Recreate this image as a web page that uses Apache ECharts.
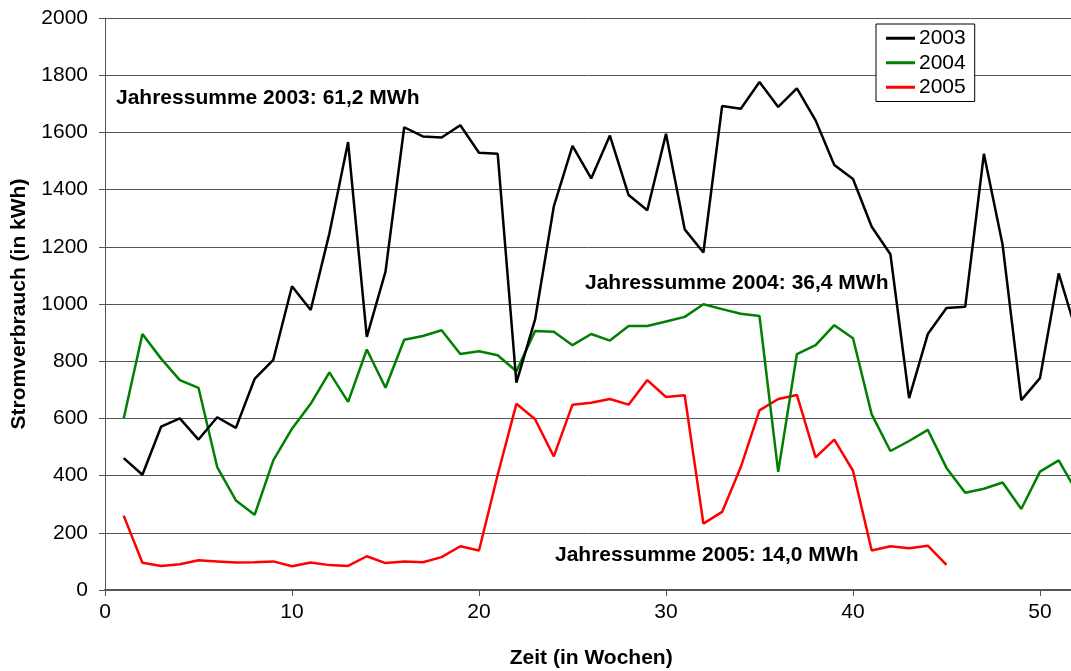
<!DOCTYPE html>
<html>
<head>
<meta charset="utf-8">
<script src="https://cdn.jsdelivr.net/npm/echarts@6/dist/echarts.min.js"></script>
<style>
  html, body { margin: 0; padding: 0; background: #fff; }
  #chart { width: 1071px; height: 671px; }
</style>
</head>
<body>
<div id="chart"></div>
<script>
  // Wochenwerte (kWh), Woche 1..n
  const weeks2003 = [461, 403, 571, 600, 526, 604, 567, 738, 805, 1062, 979, 1247, 1566, 885, 1113,
    1618, 1586, 1582, 1625, 1529, 1525, 725, 946, 1341, 1553, 1439, 1589, 1381, 1328, 1595,
    1261, 1180, 1692, 1683, 1776, 1689, 1754, 1642, 1486, 1437, 1270, 1174, 671, 895, 986,
    990, 1525, 1207, 664, 741, 1107, 890]
  const weeks2004 = [600, 895, 809, 734, 707, 430, 313, 263, 453, 564, 651, 761, 658, 841, 707,
    875, 888, 908, 825, 835, 821, 765, 906, 903, 856, 895, 872, 923, 923, 939,
    955, 999, 982, 966, 958, 413, 825, 856, 926, 880, 614, 486, 521, 560, 427,
    340, 354, 376, 283, 414, 453, 340]
  const weeks2005 = [260, 95, 84, 90, 104, 100, 96, 97, 100, 83, 96, 87, 84, 118, 94,
    100, 97, 115, 153, 138, 403, 651, 597, 467, 648, 655, 668, 648, 734, 675,
    681, 232, 273, 430, 628, 668, 682, 464, 526, 417, 138, 153, 146, 155, 88]
  const seriesNames = ['2003', '2004', '2005']
  const seriesColors = ['#000000', '#008000', '#ff0000']
  const yearTotals = ['Jahressumme 2003: 61,2 MWh', 'Jahressumme 2004: 36,4 MWh', 'Jahressumme 2005: 14,0 MWh']

  function toPairs (values) {
    return values.map(function (v, i) { return [i + 1, v] })
  }

  let chart = echarts.init(document.getElementById('chart'))
  let font = 'Liberation Sans, Arial, sans-serif'
  let option = {
    backgroundColor: '#fff',
    animation: false,
    grid: {
      left: 105,
      right: -6.4,
      top: 18,
      bottom: 81,
      outerBoundsMode: 'none',
      containLabel: false
    },
    legend: {
      orient: 'vertical',
      left: 876,
      top: 24,
      padding: [2, 9, 2, 10],
      itemGap: 0,
      itemWidth: 29,
      itemHeight: 3,
      icon: 'rect',
      backgroundColor: '#fff',
      borderColor: '#000',
      borderWidth: 1,
      borderRadius: 0,
      textStyle: { fontFamily: font, fontSize: 21, lineHeight: 24.5, color: '#000', padding: [0, 0, 0, -1] },
      data: seriesNames
    },
    xAxis: {
      type: 'value',
      min: 0,
      max: 52,
      interval: 10,
      name: 'Zeit (in Wochen)',
      nameLocation: 'middle',
      nameGap: 58,
      nameTextStyle: { fontFamily: font, fontSize: 21, fontWeight: 'bold', color: '#000' },
      axisLine: { onZero: false, lineStyle: { color: '#555', width: 2 } },
      axisTick: { show: true, length: 6, lineStyle: { color: '#555' } },
      axisLabel: { fontFamily: font, fontSize: 21, color: '#000', margin: 12, showMaxLabel: false },
      splitLine: { show: false }
    },
    yAxis: {
      type: 'value',
      min: 0,
      max: 2000,
      interval: 200,
      name: 'Stromverbrauch (in kWh)',
      nameLocation: 'middle',
      nameGap: 75,
      nameRotate: 90,
      nameTextStyle: { fontFamily: font, fontSize: 21, fontWeight: 'bold', color: '#000' },
      axisLine: { show: true, lineStyle: { color: '#555', width: 1 } },
      axisTick: { show: true, length: 6, inside: false, lineStyle: { color: '#555' } },
      axisLabel: {
        fontFamily: font,
        fontSize: 21,
        color: '#000',
        margin: 17,
        formatter: function (v) { return String(v) }
      },
      splitLine: { show: true, lineStyle: { color: '#555', width: 1 } }
    },
    series: [weeks2003, weeks2004, weeks2005].map(function (vals, k) {
      return {
        name: seriesNames[k],
        type: 'line',
        data: toPairs(vals),
        symbol: 'none',
        color: seriesColors[k],
        lineStyle: { width: 2.5, color: seriesColors[k] },
        z: 3 - k
      }
    }),
    graphic: [
      { type: 'text', left: 116, top: 88, style: { text: yearTotals[0], font: 'bold 21px ' + font, fill: '#000' } },
      { type: 'text', left: 585, top: 273, style: { text: yearTotals[1], font: 'bold 21px ' + font, fill: '#000' } },
      { type: 'text', left: 555, top: 545, style: { text: yearTotals[2], font: 'bold 21px ' + font, fill: '#000' } }
    ]
  }
  chart.setOption(option)
</script>
</body>
</html>
